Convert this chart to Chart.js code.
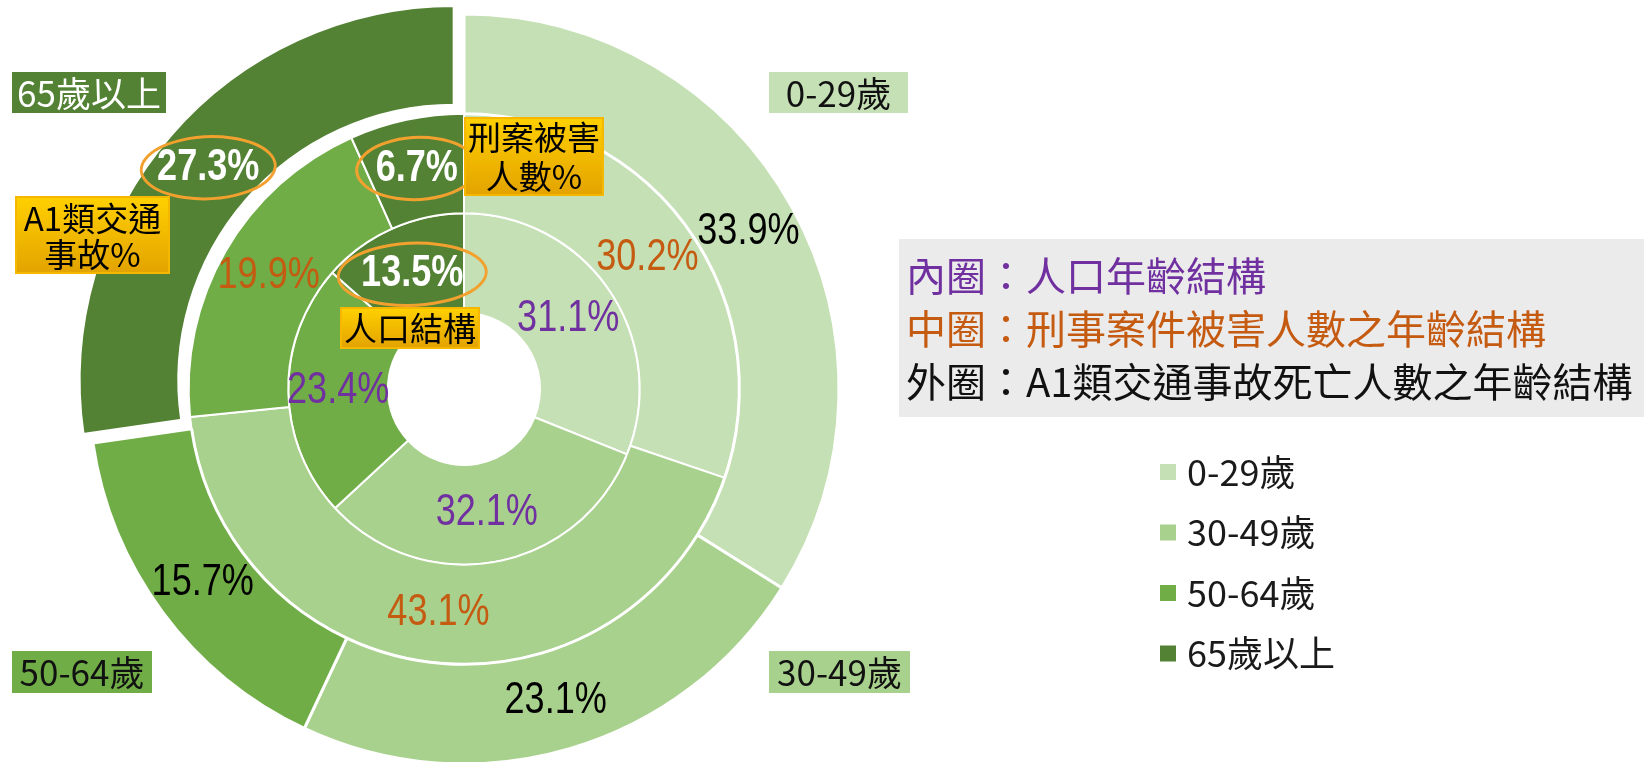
<!DOCTYPE html>
<html><head><meta charset="utf-8">
<script src="https://cdn.jsdelivr.net/npm/chart.js@4.4.1/dist/chart.umd.min.js"></script>
<style>html,body{margin:0;padding:0;background:#fff;}#wrap{position:relative;width:1644px;height:762px;}</style>
</head><body><div id="wrap"><canvas id="c"></canvas></div>
<script>
// ---- data ----
const categories = ['0-29歲', '30-49歲', '50-64歲', '65歲以上'];
const trafficDeathPct = [33.9, 23.1, 15.7, 27.3]; // outer ring: A1 traffic deaths
const crimeVictimPct = [30.2, 43.1, 19.9, 6.7];   // middle ring: crime victims
const populationPct = [31.1, 32.1, 23.4, 13.5];   // inner ring: population
const ringTitles = ['內圈：人口年齡結構', '中圈：刑事案件被害人數之年齡結構', '外圈：A1類交通事故死亡人數之年齡結構'];
const calloutTexts = [['A1類交通', '事故%'], ['刑案被害', '人數%'], ['人口結構']];

// ---- styles ----
const colors = ['#C5E0B4', '#A9D18E', '#70AD47', '#548235'];
const ringLabelColors = ['#000000', '#C55A11', '#7030A0'];
const explode = [[0, 0, 0, 13], [0, 0, 0, 0], [0, 0, 0, 0]]; // pull-out distance per slice (px)
const CJK = '"Noto Sans CJK TC", "Noto Sans CJK SC", sans-serif';

function narrowText(ctx, text, x, y, size, bold, color) {
  ctx.save();
  ctx.translate(x, y);
  ctx.scale(0.82, 1);
  ctx.font = (bold ? 'bold ' : '') + size + 'px "Liberation Sans", Arial, sans-serif';
  ctx.fillStyle = color;
  ctx.textAlign = 'center';
  ctx.textBaseline = 'middle';
  ctx.fillText(text, 0, 0);
  ctx.restore();
}
function handEllipse(ctx, cx, cy, rx, ry) {
  ctx.save();
  ctx.strokeStyle = '#F2A12E';
  ctx.lineWidth = 3;
  ctx.lineCap = 'round';
  ctx.beginPath();
  ctx.ellipse(cx, cy, rx, ry, -0.04, Math.PI * 1.62, Math.PI * 1.62 + Math.PI * 2.1);
  ctx.stroke();
  ctx.restore();
}
function goldBox(ctx, x, y, w, h, lines, lineYs) {
  ctx.save();
  const g = ctx.createLinearGradient(0, y, 0, y + h);
  g.addColorStop(0, '#FFD000');
  g.addColorStop(1, '#E3A300');
  ctx.fillStyle = g;
  ctx.fillRect(x, y, w, h);
  ctx.strokeStyle = '#F5B700';
  ctx.lineWidth = 2;
  ctx.strokeRect(x, y, w, h);
  ctx.fillStyle = '#000';
  ctx.font = '33px ' + CJK;
  ctx.textAlign = 'center';
  ctx.textBaseline = 'middle';
  lines.forEach((t, i) => ctx.fillText(t, x + w / 2, lineYs[i]));
  ctx.restore();
}
function catBox(ctx, x, y, w, h, text, bg, fg) {
  ctx.save();
  ctx.fillStyle = bg;
  ctx.fillRect(x, y, w, h);
  ctx.fillStyle = fg;
  ctx.font = '35px ' + CJK;
  ctx.textAlign = 'center';
  ctx.textBaseline = 'middle';
  ctx.fillText(text, x + w / 2, y + h / 2 + 1);
  ctx.restore();
}

const ellipseSize = [[67, 31], [60, 31], [74, 31]];

const explodePlugin = {
  id: 'explode',
  afterUpdate(chart) {
    chart.data.datasets.forEach((ds, di) => {
      const meta = chart.getDatasetMeta(di);
      meta.data.forEach((arc, i) => {
        const d = explode[di][i];
        if (!d) return;
        const mid = (arc.startAngle + arc.endAngle) / 2;
        arc.x += Math.cos(mid) * d;
        arc.y += Math.sin(mid) * d;
      });
    });
  }
};

const overlay = {
  id: 'overlay',
  afterDatasetsDraw(chart) {
    const ctx = chart.ctx;
    // category tags around the chart
    catBox(ctx, 12, 72, 154, 41, chart.data.labels[3], colors[3], '#FFFFFF');
    catBox(ctx, 769, 72, 139, 41, chart.data.labels[0], colors[0], '#111');
    catBox(ctx, 769, 651, 141, 42, chart.data.labels[1], colors[1], '#111');
    catBox(ctx, 12, 651, 140, 42, chart.data.labels[2], colors[2], '#111');

    // value labels on arcs
    chart.data.datasets.forEach((ds, di) => {
      const meta = chart.getDatasetMeta(di);
      meta.data.forEach((arc, i) => {
        const mid = (arc.startAngle + arc.endAngle) / 2;
        const r = (arc.innerRadius + arc.outerRadius) / 2;
        const x = arc.x + Math.cos(mid) * r;
        const y = arc.y + Math.sin(mid) * r;
        const txt = ds.data[i].toFixed(1) + '%';
        if (i === 3) {
          handEllipse(ctx, x, y, ellipseSize[di][0], ellipseSize[di][1]);
          narrowText(ctx, txt, x, y, 44, true, '#FFFFFF');
        } else {
          narrowText(ctx, txt, x, y, 44, false, ringLabelColors[di]);
        }
      });
    });

    // callouts
    goldBox(ctx, 16, 197, 153, 76, calloutTexts[0], [218, 254]);
    goldBox(ctx, 465, 118, 138, 77, calloutTexts[1], [137, 176]);
    goldBox(ctx, 341, 308, 138, 40, calloutTexts[2], [328]);

    // ring description panel
    ctx.save();
    ctx.fillStyle = '#EBEBEB';
    ctx.fillRect(899, 239, 745, 178);
    ctx.font = '40px ' + CJK;
    ctx.textAlign = 'left';
    ctx.textBaseline = 'middle';
    const panelColors = ['#7030A0', '#C55A11', '#111111'];
    ringTitles.forEach((t, i) => {
      ctx.fillStyle = panelColors[i];
      ctx.fillText(t, 906, 276 + i * 53);
    });
    ctx.restore();

    // legend
    ctx.save();
    ctx.font = '36px ' + CJK;
    ctx.textAlign = 'left';
    ctx.textBaseline = 'middle';
    chart.data.labels.forEach((lab, i) => {
      const cy = 472 + i * 60.5;
      ctx.fillStyle = colors[i];
      ctx.fillRect(1160, cy - 8, 16, 16);
      ctx.fillStyle = '#1a1a1a';
      ctx.fillText(lab, 1187, cy);
    });
    ctx.restore();
  }
};

const baseDs = { backgroundColor: colors, borderColor: '#FFFFFF', hoverOffset: 0, offset: 0, clip: false };

new Chart(document.getElementById('c'), {
  type: 'doughnut',
  data: {
    labels: categories,
    datasets: [
      Object.assign({ label: 'A1類交通事故死亡人數', data: trafficDeathPct, borderWidth: 3 }, baseDs),
      Object.assign({ label: '刑事案件被害人數', data: crimeVictimPct, borderWidth: 2 }, baseDs),
      Object.assign({ label: '人口', data: populationPct, borderWidth: 2 }, baseDs)
    ]
  },
  options: {
    responsive: true,
    maintainAspectRatio: false,
    animation: false,
    events: [],
    radius: 375,
    cutout: '20.27%',
    layout: { padding: { left: 0, right: 716, top: 16, bottom: 0 } },
    plugins: { legend: { display: false }, tooltip: { enabled: false } }
  },
  plugins: [explodePlugin, overlay]
});
</script>
</body></html>
